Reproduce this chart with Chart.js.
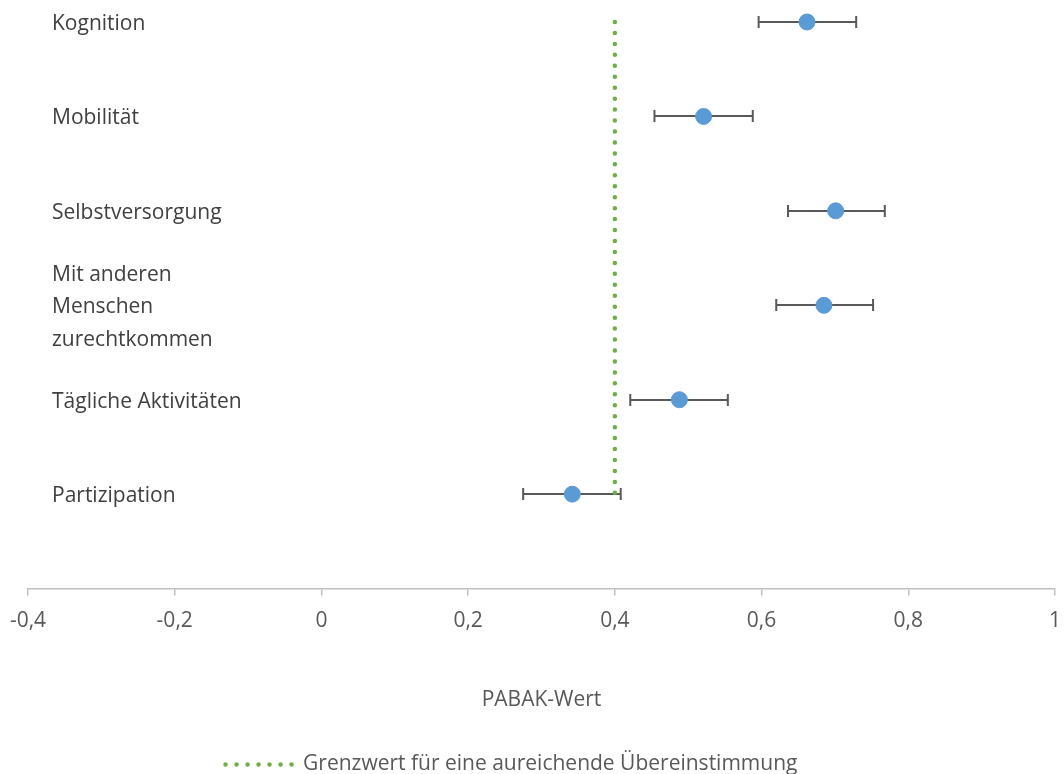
<!DOCTYPE html>
<html>
<head>
<meta charset="utf-8">
<script src="https://cdn.jsdelivr.net/npm/chart.js@4"></script>
<style>
  html, body { margin: 0; padding: 0; background: #fff; }
  #wrap { width: 1064px; height: 774px; }
</style>
</head>
<body>
<div id="wrap"><canvas id="c"></canvas></div>
<script>
// Domains (top to bottom)
const categories = [
  'Kognition',
  'Mobilität',
  'Selbstversorgung',
  ['Mit anderen', 'Menschen', 'zurechtkommen'],
  'Tägliche Aktivitäten',
  'Partizipation'
];
// PABAK estimates with lower / upper interval bounds
const pabak = [0.662, 0.521, 0.701, 0.685, 0.488, 0.342];
const lower = [0.596, 0.454, 0.636, 0.620, 0.421, 0.275];
const upper = [0.729, 0.588, 0.768, 0.752, 0.554, 0.408];
// Threshold for sufficient agreement
const threshold = 0.4;
const thresholdLabel = 'Grenzwert für eine aureichende Übereinstimmung';
// Axis
const xTicks = [-0.4, -0.2, 0, 0.2, 0.4, 0.6, 0.8, 1];
const xTitle = 'PABAK-Wert';

const FONT = "'Open Sans', 'DejaVu Sans', sans-serif";
const FS = 21;
const rowPos = categories.map((_, i) => categories.length - i);

const points = pabak.map((v, i) => ({ x: v, y: rowPos[i] }));
// Vertical threshold line, drawn from the top row down to the bottom row
const thresholdLine = [
  { x: threshold, y: rowPos[0] },
  { x: threshold, y: rowPos[rowPos.length - 1] }
];

// Horizontal interval bars with end caps, drawn under the points
const errorBars = {
  id: 'errorBars',
  beforeDatasetsDraw(chart) {
    const { ctx, scales: { x, y } } = chart;
    ctx.save();
    ctx.strokeStyle = '#595959';
    ctx.lineWidth = 2;
    const cap = 6;
    for (let i = 0; i < pabak.length; i++) {
      const py = Math.round(y.getPixelForValue(rowPos[i]));
      const x0 = x.getPixelForValue(lower[i]);
      const x1 = x.getPixelForValue(upper[i]);
      ctx.beginPath();
      ctx.moveTo(x0, py); ctx.lineTo(x1, py);
      ctx.moveTo(x0, py - cap); ctx.lineTo(x0, py + cap);
      ctx.moveTo(x1, py - cap); ctx.lineTo(x1, py + cap);
      ctx.stroke();
    }
    ctx.restore();
  }
};

// Domain names written inside the plot, left aligned
const rowLabels = {
  id: 'rowLabels',
  afterDraw(chart) {
    const { ctx, scales: { x, y } } = chart;
    ctx.save();
    ctx.fillStyle = '#404040';
    ctx.font = `${FS}px ${FONT}`;
    ctx.textAlign = 'left';
    ctx.textBaseline = 'middle';
    const lx = x.getPixelForValue(x.min) + 24;
    const lh = 32.5;
    categories.forEach((c, i) => {
      const lines = Array.isArray(c) ? c : [c];
      const cy = y.getPixelForValue(rowPos[i]) + 2;
      lines.forEach((t, k) => {
        ctx.fillText(t, lx, cy + (k - (lines.length - 1) / 2) * lh);
      });
    });
    ctx.restore();
  }
};

// Nudge the legend row: a little to the left and closer to the bottom edge
const legendShift = {
  id: 'legendShift',
  afterLayout(chart) {
    const lg = chart.legend;
    if (lg) {
      lg.left -= 30; lg.right -= 30;
      lg.top += 11; lg.bottom += 11;
    }
  }
};

new Chart(document.getElementById('c'), {
  type: 'scatter',
  data: {
    datasets: [
      {
        type: 'line',
        label: thresholdLabel,
        data: thresholdLine,
        borderColor: '#70AD47',
        backgroundColor: '#70AD47',
        borderWidth: 4.5,
        borderDash: [0, 10.95],
        borderCapStyle: 'round',
        pointRadius: 0,
        fill: false,
        clip: false,
        order: 2
      },
      {
        label: 'PABAK',
        data: points,
        backgroundColor: '#5B9BD5',
        borderColor: '#5B9BD5',
        pointRadius: 8,
        pointHoverRadius: 8,
        clip: false,
        order: 1
      }
    ]
  },
  options: {
    responsive: true,
    maintainAspectRatio: false,
    animation: false,
    layout: { padding: { left: 28, right: 9, top: 22, bottom: 0 } },
    scales: {
      x: {
        type: 'linear',
        min: xTicks[0],
        max: xTicks[xTicks.length - 1],
        afterBuildTicks(scale) { scale.ticks = xTicks.map(v => ({ value: v })); },
        afterFit(scale) { scale.paddingLeft = 0; scale.paddingRight = 0; },
        grid: {
          display: true,
          drawOnChartArea: false,
          drawTicks: true,
          tickLength: 7,
          color: '#BFBFBF',
          lineWidth: 1.5
        },
        border: { display: true, color: '#BFBFBF', width: 1.5 },
        ticks: {
          color: '#595959',
          font: { family: FONT, size: FS },
          padding: 13,
          maxRotation: 0,
          callback: v => String(v).replace('.', ',')
        },
        title: {
          display: true,
          text: xTitle,
          color: '#595959',
          font: { family: FONT, size: FS },
          padding: { top: 41, bottom: 20 }
        }
      },
      y: {
        type: 'linear',
        min: 0,
        max: rowPos[0],
        display: false
      }
    },
    plugins: {
      legend: {
        position: 'bottom',
        labels: {
          usePointStyle: true,
          pointStyleWidth: 67,
          padding: 10,
          color: '#595959',
          font: { family: FONT, size: FS },
          generateLabels(chart) {
            const ds = chart.data.datasets[0];
            return [{
              text: ds.label,
              fillStyle: ds.borderColor,
              strokeStyle: ds.borderColor,
              lineWidth: 4.5,
              lineDash: [0, 11],
              lineCap: 'round',
              pointStyle: 'line',
              fontColor: '#595959',
              hidden: false,
              datasetIndex: 0
            }];
          }
        },
        onClick: () => {}
      },
      tooltip: { enabled: false }
    }
  },
  plugins: [errorBars, rowLabels, legendShift]
});
</script>
</body>
</html>
